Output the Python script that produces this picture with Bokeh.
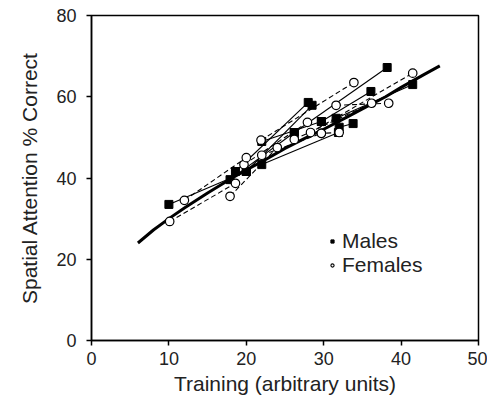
from bokeh.plotting import figure
from bokeh.models import Range1d, Legend, LegendItem, FixedTicker
from bokeh.embed import file_html
from bokeh.resources import INLINE

# Males: pairs of (training, % correct) per subject, solid lines
male_x0 = [10.0, 17.9, 18.6, 20.0, 22.0, 22.0, 26.2, 29.7, 31.6, 32.0]
male_y0 = [33.5, 39.6, 41.6, 41.6, 43.3, 49.0, 51.2, 53.9, 54.7, 52.5]
male_x1 = [20.0, 26.2, 28.0, 28.5, 31.9, 29.7, 38.2, 36.1, 41.5, 33.8]
male_y1 = [41.6, 51.2, 58.6, 57.9, 51.2, 53.9, 67.2, 61.3, 63.0, 53.4]

# Females: pairs per subject, dashed lines
fem_x0 = [10.1, 12.0, 17.9, 19.7, 21.9, 22.0, 26.2, 28.3, 31.6, 32.0]
fem_y0 = [29.3, 34.5, 35.5, 43.3, 49.3, 45.6, 49.5, 51.2, 57.9, 51.2]
fem_x1 = [18.6, 20.0, 24.0, 27.9, 33.9, 29.7, 36.2, 41.5, 38.4, 29.7]
fem_y1 = [38.7, 45.0, 47.5, 53.7, 63.5, 51.0, 58.4, 65.8, 58.4, 51.0]

# Overall fitted curve
fit_x = [6, 8, 10, 12, 15, 18, 20, 22, 25, 28, 30, 33, 35, 38, 40, 43, 45]
fit_y = [24.0, 27.2, 30.0, 32.6, 36.3, 39.8, 42.0, 44.0, 47.3, 50.2, 52.0, 55.0, 57.0, 60.0, 62.3, 65.5, 67.6]

x_ticks = [0, 10, 20, 30, 40, 50]
y_ticks = [0, 20, 40, 60, 80]

FONT = "Liberation Sans"
TXT = "#222222"
NAN = float("nan")

p = figure(width=487, height=398, output_backend="svg", toolbar_location=None,
           x_range=Range1d(0, 50), y_range=Range1d(0, 80),
           min_border_left=91, min_border_right=9, min_border_top=15, min_border_bottom=58)
p.grid.visible = False
p.outline_line_color = "black"
p.outline_line_width = 1.5
p.background_fill_color = "white"
p.border_fill_color = "white"

for ax in (p.xaxis[0], p.yaxis[0]):
    ax.axis_line_width = 1.5
    ax.major_tick_line_width = 1.5
    ax.major_tick_out = 5
    ax.major_tick_in = 0
    ax.minor_tick_line_color = None
    ax.major_label_text_font = FONT
    ax.major_label_text_font_size = "18px"
    ax.major_label_text_color = TXT
    ax.axis_label_text_font = FONT
    ax.axis_label_text_font_size = "21px"
    ax.axis_label_text_font_style = "normal"
    ax.axis_label_text_color = TXT

p.xaxis.ticker = FixedTicker(ticks=x_ticks)
p.yaxis.ticker = FixedTicker(ticks=y_ticks)
p.xaxis.axis_label = "Training (arbitrary units)"
p.yaxis.axis_label = "Spatial Attention % Correct"
p.xaxis.major_label_standoff = 6
p.yaxis.major_label_standoff = 10
p.xaxis.axis_label_standoff = 4
p.yaxis.axis_label_standoff = 12

p.segment(male_x0, male_y0, male_x1, male_y1, line_color="black", line_width=1.1)
p.segment(fem_x0, fem_y0, fem_x1, fem_y1, line_color="black", line_width=1.1, line_dash="5 3")
p.line(fit_x, fit_y, line_color="black", line_width=3)

mx = male_x0 + male_x1
my = male_y0 + male_y1
fx = fem_x0 + fem_x1
fy = fem_y0 + fem_y1
p.scatter(mx, my, marker="square", size=8, fill_color="black", line_color="black")
p.scatter(fx, fy, marker="circle", size=8.5, fill_color="white", line_color="black", line_width=1.2)

# legend-only glyphs (smaller markers, not drawn in the plot area)
rm = p.scatter(x=[NAN], y=[NAN], marker="square", size=7.5, fill_color="black", line_color="black")
rf = p.scatter(x=[NAN], y=[NAN], marker="circle", size=7.5, fill_color="white", line_color="black", line_width=1.1)

legend = Legend(items=[LegendItem(label="Males", renderers=[rm]),
                       LegendItem(label="Females", renderers=[rf])],
                location=(237, 63))
legend.label_text_font = FONT
legend.label_text_font_size = "21px"
legend.label_text_color = TXT
legend.border_line_color = None
legend.background_fill_alpha = 0
legend.glyph_width = 8
legend.glyph_height = 24
legend.label_height = 24
legend.label_standoff = 6
legend.padding = 0
legend.spacing = 0
legend.margin = 0
p.add_layout(legend, "center")

open("out.html", "w").write(file_html(p, INLINE))
